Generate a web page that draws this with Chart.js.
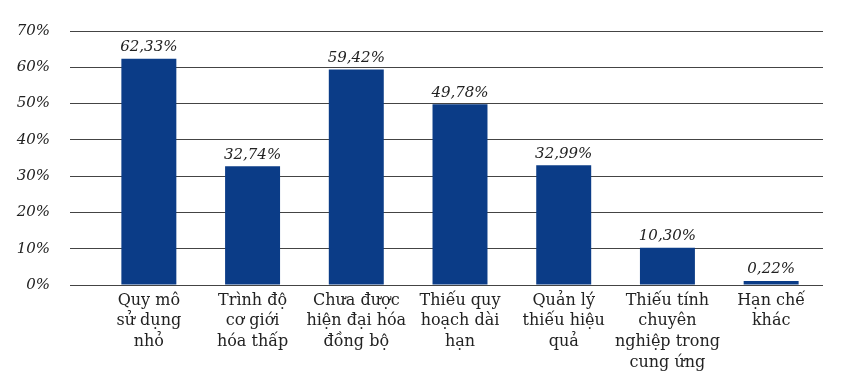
<!DOCTYPE html>
<html>
<head>
<meta charset="utf-8">
<script src="https://cdn.jsdelivr.net/npm/chart.js@4/dist/chart.umd.min.js"></script>
<style>
  html, body { margin: 0; padding: 0; background: #fff; }
  #wrap { width: 846px; height: 384px; }
</style>
</head>
<body>
<div id="wrap"><canvas id="barChart" width="846" height="384"></canvas></div>
<script>
const categories = [
  ["Quy mô", "sử dụng", "nhỏ"],
  ["Trình độ", "cơ giới", "hóa thấp"],
  ["Chưa được", "hiện đại hóa", "đồng bộ"],
  ["Thiếu quy", "hoạch dài", "hạn"],
  ["Quản lý", "thiếu hiệu", "quả"],
  ["Thiếu tính", "chuyên", "nghiệp trong", "cung ứng"],
  ["Hạn chế", "khác"]
];
const values = [62.33, 32.74, 59.42, 49.78, 32.99, 10.30, 0.22];
const yTicks = [0, 10, 20, 30, 40, 50, 60, 70];

const serif = "'DejaVu Serif', 'Liberation Serif', serif";

const valueLabels = {
  id: "valueLabels",
  afterDatasetsDraw(chart) {
    const ctx = chart.ctx;
    const meta = chart.getDatasetMeta(0);
    ctx.save();
    ctx.font = "italic 15px " + serif;
    ctx.fillStyle = "#222";
    ctx.textAlign = "center";
    ctx.textBaseline = "bottom";
    meta.data.forEach((bar, i) => {
      const txt = values[i].toFixed(2).replace(".", ",") + "%";
      ctx.fillText(txt, bar.x, bar.y - 4);
    });
    ctx.restore();
  }
};

new Chart(document.getElementById("barChart"), {
  type: "bar",
  data: {
    labels: categories,
    datasets: [{
      data: values,
      backgroundColor: "#0b3c87",
      barPercentage: 0.53,
      categoryPercentage: 1,
      minBarLength: 4
    }]
  },
  options: {
    responsive: false,
    animation: false,
    layout: { padding: { top: 31, right: 23, left: 0, bottom: 0 } },
    plugins: { legend: { display: false }, tooltip: { enabled: false } },
    scales: {
      x: {
        grid: { display: false },
        border: { display: false },
        afterFit(scale) { scale.height = 99; },
        ticks: {
          color: "#222",
          padding: -3,
          maxRotation: 0,
          autoSkip: false,
          font: { family: serif, size: 16, lineHeight: 1.3 }
        }
      },
      y: {
        min: 0,
        max: 70,
        afterFit(scale) { scale.width = 97; },
        afterBuildTicks(scale) { scale.ticks = yTicks.map(v => ({ value: v })); },
        border: { display: false },
        grid: { color: "#444", lineWidth: 1, tickLength: 27 },
        ticks: {
          color: "#222",
          padding: 20,
          font: { family: serif, size: 15, style: "italic" },
          callback: v => v + "%"
        }
      }
    }
  },
  plugins: [valueLabels]
});
</script>
</body>
</html>
